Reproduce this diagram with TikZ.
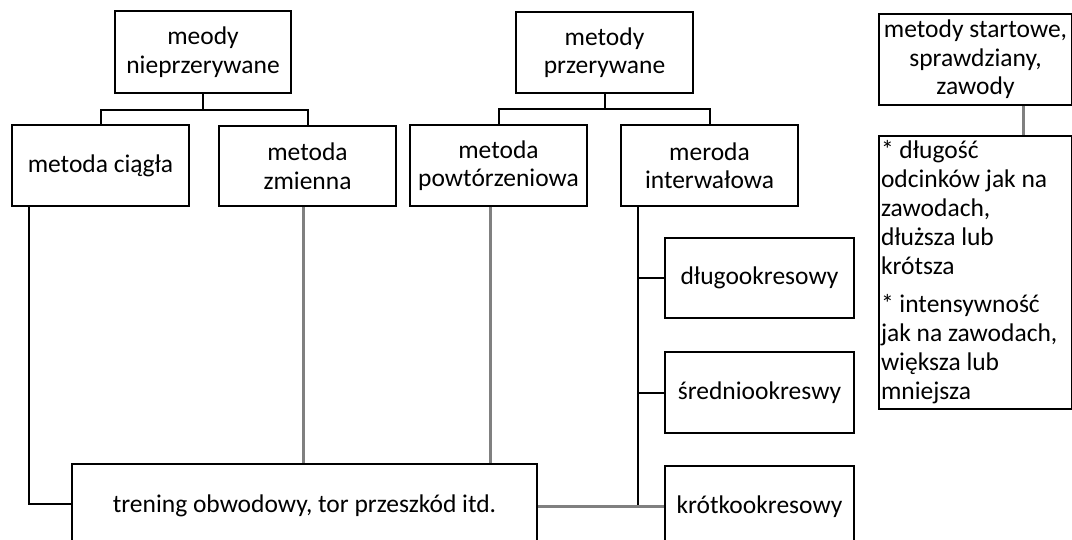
\documentclass[tikz,border=0pt]{standalone}
\usepackage{fontspec}
\setmainfont{Carlito}
\usetikzlibrary{calc}
\definecolor{lnGray}{RGB}{128,128,128}
\tikzset{
  boxnode/.style={draw=black, line width=2pt, anchor=north west, inner sep=1pt,
    align=center, font=\fontsize{25.5}{28.5}\selectfont},
  blackline/.style={draw=black, line width=2pt},
  grayline/.style={draw=lnGray, line width=3pt},
}
\begin{document}
\begin{tikzpicture}[x=1pt,y=-1pt]
\useasboundingbox (0,0) rectangle (1072,540);
\fill[white] (0,0) rectangle (1072,540);
\clip (0,0) rectangle (1072,540);

% top-level boxes
\node[boxnode, minimum width=176, minimum height=82] (A) at (114,10) {meody\\nieprzerywane};
\node[boxnode, minimum width=177, minimum height=81] (B) at (515,11) {metody\\przerywane};
\node[boxnode, minimum width=193, minimum height=91] (C) at (878,13) {metody startowe,\\sprawdziany,\\zawody};

% second level
\node[boxnode, minimum width=177, minimum height=81] (A1) at (11,124) {metoda ciągła};
\node[boxnode, minimum width=177, minimum height=80] (A2) at (218,125) {metoda\\zmienna};
\node[boxnode, minimum width=177, minimum height=81] (B1) at (409,124) {metoda\\powtórzeniowa};
\node[boxnode, minimum width=177, minimum height=81] (B2) at (620,124) {meroda\\interwałowa};
\node[boxnode, minimum width=193, minimum height=273, text width=189, align=flush left,
      font=\fontsize{25.5}{29}\selectfont] (C1) at (878,135)
  {* długość\\odcinków jak na\\zawodach,\\dłuższa lub\\krótsza\\[9pt]* intensywność\\jak na zawodach,\\większa lub\\mniejsza};

% interval subtypes
\node[boxnode, minimum width=189, minimum height=80] (dlug) at (664,237) {długookresowy};
\node[boxnode, minimum width=189, minimum height=81] (sred) at (664,351) {średniookreswy};
\node[boxnode, minimum width=189, minimum height=82] (krot) at (664,465) {krótkookresowy};

% bottom box
\node[boxnode, minimum width=465, minimum height=84] (T) at (71,463) {trening obwodowy, tor przeszkód itd.};

% tree connectors
\coordinate (Aj) at ($(A.south)+(0,16)$);
\draw[blackline] (A.south) -- (Aj);
\draw[blackline] (Aj) -| (A1.north);
\draw[blackline] (Aj) -| (A2.north);
\coordinate (Bj) at ($(B.south)+(0,15)$);
\draw[blackline] (B.south) -- (Bj);
\draw[blackline] (Bj) -| (B1.north);
\draw[blackline] (Bj) -| (B2.north);

% left connector from metoda ciagla to T
\coordinate (Aleft) at ($(A1.south west)+(18,0)$);
\draw[blackline] (Aleft) |- ($(T.west)+(0,-2)$);

% bus from interwalowa
\coordinate (bus) at ($(B2.south west)+(18,0)$);
\draw[blackline] (bus) |- (krot.west);
\draw[blackline] (dlug.west) -- (dlug.west -| bus);
\draw[blackline] (sred.west) -- (sred.west -| bus);

% gray connectors
\coordinate (A2g) at ($(A2.south west)+(85,0)$);
\draw[grayline] (A2g) -- (A2g |- T.north);
\coordinate (B1g) at ($(B1.south west)+(81,0)$);
\draw[grayline] (B1g) -- (B1g |- T.north);
\draw[grayline] (T.east) -- (T.east -| krot.west);
\coordinate (Cg) at ($(C.south west)+(145,0)$);
\draw[grayline] (Cg) -- (Cg |- C1.north);
\end{tikzpicture}
\end{document}
